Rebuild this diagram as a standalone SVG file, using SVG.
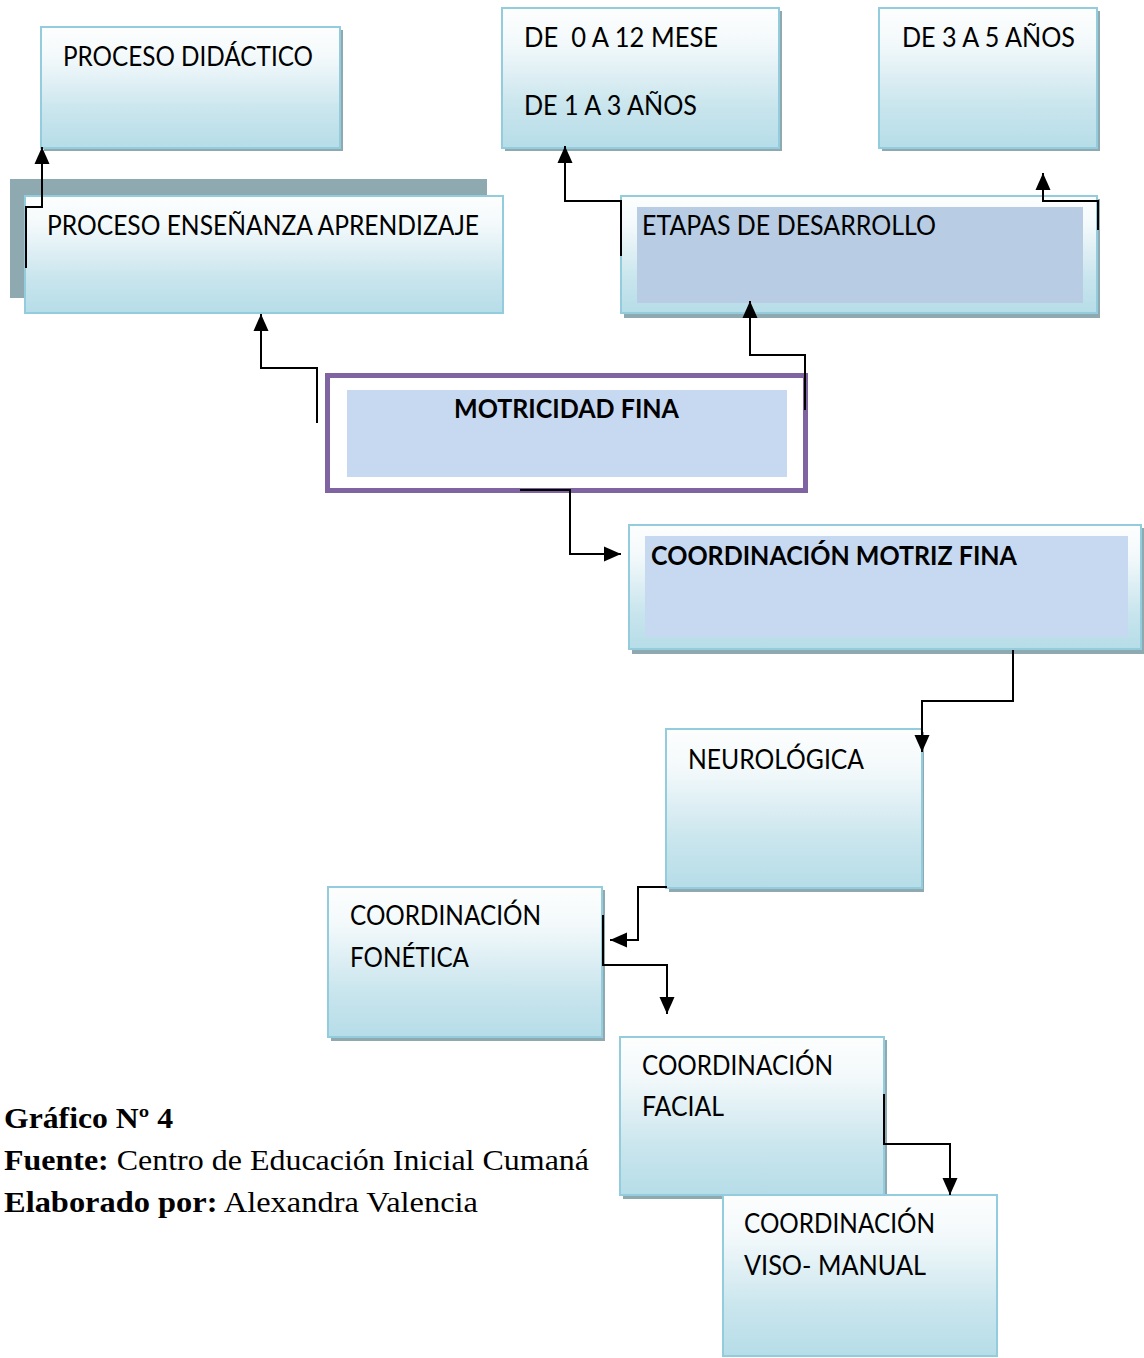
<svg xmlns="http://www.w3.org/2000/svg" width="1144" height="1358" viewBox="0 0 1144 1358">
  <defs>
    <linearGradient id="boxGrad" x1="0" y1="0" x2="0" y2="1">
      <stop offset="0" stop-color="#fdfefe"/>
      <stop offset="0.25" stop-color="#f3f9fb"/>
      <stop offset="0.7" stop-color="#c9e5ed"/>
      <stop offset="1" stop-color="#b6dde8"/>
    </linearGradient>
    <marker id="arrow" markerUnits="userSpaceOnUse" markerWidth="18" markerHeight="16" refX="17" refY="8" orient="auto" overflow="visible">
      <path d="M0,0.5 L17,8 L0,15.5 Z" fill="#000"/>
    </marker>
  </defs>
  <style>
    .shadow { fill: #8fa9b1; }
    .box { fill: url(#boxGrad); stroke: #93cddd; stroke-width: 2; }
    .lbl { font-family: Lato, "Open Sans", "Liberation Sans", sans-serif; font-size: 26px; fill: #000; }
    .bold { font-weight: bold; }
    .conn { fill: none; stroke: #000; stroke-width: 2; marker-end: url(#arrow); }
    .foot { font-family: "Liberation Serif", "Times New Roman", serif; font-size: 29px; fill: #000; }
  </style>

  <g id="node-proceso-didactico">
    <rect class="shadow" x="44" y="30" width="299" height="121"/>
    <rect class="box" x="41" y="27" width="299" height="121"/>
    <text class="lbl" x="63" y="66" textLength="250" lengthAdjust="spacingAndGlyphs">PROCESO DIDÁCTICO</text>
  </g>

  <g id="node-proceso-ensenanza">
    <rect x="10" y="179" width="477" height="119" fill="#8fa9b1"/>
    <rect class="box" x="25" y="196" width="478" height="117"/>
    <text class="lbl" x="47" y="235" textLength="432" lengthAdjust="spacingAndGlyphs">PROCESO ENSEÑANZA APRENDIZAJE</text>
  </g>

  <g id="node-de-0-a-12">
    <rect class="shadow" x="505" y="11" width="277" height="140"/>
    <rect class="box" x="502" y="8" width="277" height="140"/>
    <text class="lbl" x="524" y="47" xml:space="preserve" textLength="194" lengthAdjust="spacingAndGlyphs">DE  0 A 12 MESE</text>
    <text class="lbl" x="524" y="115" textLength="173" lengthAdjust="spacingAndGlyphs">DE 1 A 3 AÑOS</text>
  </g>

  <g id="node-de-3-a-5">
    <rect class="shadow" x="882" y="11" width="218" height="140"/>
    <rect class="box" x="879" y="8" width="218" height="140"/>
    <text class="lbl" x="902" y="47" textLength="173" lengthAdjust="spacingAndGlyphs">DE 3 A 5 AÑOS</text>
  </g>

  <g id="node-etapas">
    <rect class="shadow" x="624" y="199" width="476" height="119"/>
    <rect class="box" x="621" y="196" width="476" height="117"/>
    <rect x="637" y="207" width="446" height="96" fill="#b8cce4"/>
    <text class="lbl" x="642" y="235" textLength="294" lengthAdjust="spacingAndGlyphs">ETAPAS DE DESARROLLO</text>
  </g>

  <g id="node-motricidad-fina">
    <rect x="327.5" y="375.5" width="478" height="115" fill="#ffffff" stroke="#8064a2" stroke-width="5"/>
    <rect x="347" y="390" width="440" height="87" fill="#c6d9f1"/>
    <text class="lbl bold" x="454" y="418" textLength="225" lengthAdjust="spacingAndGlyphs">MOTRICIDAD FINA</text>
  </g>

  <g id="node-coordinacion-motriz-fina">
    <rect class="shadow" x="632" y="528" width="512" height="126"/>
    <rect class="box" x="629" y="525" width="512" height="124"/>
    <rect x="645" y="536" width="483" height="101" fill="#c6d9f1"/>
    <text class="lbl bold" x="651" y="565" textLength="366" lengthAdjust="spacingAndGlyphs">COORDINACIÓN MOTRIZ FINA</text>
  </g>

  <g id="node-neurologica">
    <rect class="shadow" x="669" y="732" width="255" height="160"/>
    <rect class="box" x="666" y="729" width="256" height="159"/>
    <text class="lbl" x="688" y="769" textLength="176" lengthAdjust="spacingAndGlyphs">NEUROLÓGICA</text>
  </g>

  <g id="node-fonetica">
    <rect class="shadow" x="331" y="890" width="274" height="151"/>
    <rect class="box" x="328" y="887" width="274" height="150"/>
    <text class="lbl" x="350" y="925" textLength="191" lengthAdjust="spacingAndGlyphs">COORDINACIÓN</text>
    <text class="lbl" x="350" y="967" textLength="119" lengthAdjust="spacingAndGlyphs">FONÉTICA</text>
  </g>

  <g id="node-facial">
    <rect class="shadow" x="623" y="1040" width="264" height="159"/>
    <rect class="box" x="620" y="1037" width="264" height="158"/>
    <text class="lbl" x="642" y="1075" textLength="191" lengthAdjust="spacingAndGlyphs">COORDINACIÓN</text>
    <text class="lbl" x="642" y="1116" textLength="82" lengthAdjust="spacingAndGlyphs">FACIAL</text>
  </g>

  <g id="node-viso-manual">
    <rect class="box" x="723" y="1195" width="274" height="161"/>
    <text class="lbl" x="744" y="1233" textLength="191" lengthAdjust="spacingAndGlyphs">COORDINACIÓN</text>
    <text class="lbl" x="744" y="1275" textLength="182" lengthAdjust="spacingAndGlyphs">VISO- MANUAL</text>
  </g>

  <g id="connectors">
    <path class="conn" d="M26,268 V207 H42 V147"/>
    <path class="conn" d="M317,423 V368 H261 V314"/>
    <path class="conn" d="M621,256 V201 H565 V146"/>
    <path class="conn" d="M1098,230 V201 H1043 V173"/>
    <path class="conn" d="M805,410 V355 H750 V301"/>
    <path class="conn" d="M520,490 H570 V554 H621"/>
    <path class="conn" d="M1013,650 V701 H922 V752"/>
    <path class="conn" d="M667,887 H638 V940 H610"/>
    <path class="conn" d="M603,915 V965 H667 V1014"/>
    <path class="conn" d="M884,1094 V1144 H950 V1195"/>
  </g>

  <g id="caption">
    <text class="foot" x="4" y="1128" textLength="169" lengthAdjust="spacingAndGlyphs" font-weight="bold">Gráfico Nº 4</text>
    <text class="foot" x="4" y="1170" textLength="585" lengthAdjust="spacingAndGlyphs"><tspan font-weight="bold">Fuente:</tspan> Centro de Educación Inicial Cumaná</text>
    <text class="foot" x="4" y="1212" textLength="474" lengthAdjust="spacingAndGlyphs"><tspan font-weight="bold">Elaborado por:</tspan> Alexandra Valencia</text>
  </g>
</svg>
